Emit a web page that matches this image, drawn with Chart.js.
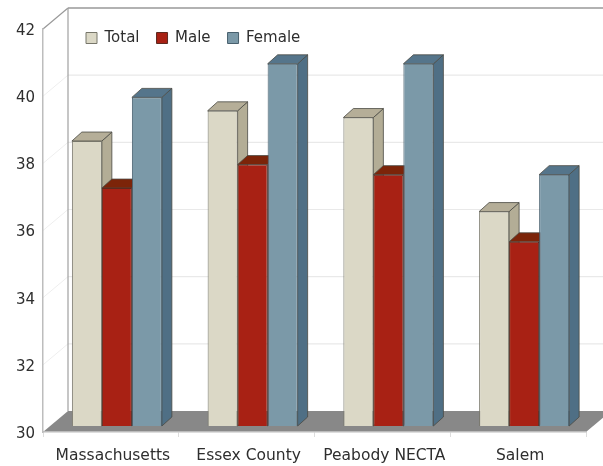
<!DOCTYPE html>
<html>
<head>
<meta charset="utf-8">
<script src="https://cdn.jsdelivr.net/npm/chart.js@4/dist/chart.umd.min.js"></script>
<style>
html, body { margin: 0; padding: 0; background: #fff; }
canvas { display: block; }
</style>
</head>
<body>
<canvas id="chart" width="603" height="466"></canvas>
<script>
const categories = ["Massachusetts", "Essex County", "Peabody NECTA", "Salem"];
const totalValues = [38.5, 39.4, 39.2, 36.4];
const maleValues = [37.1, 37.8, 37.5, 35.5];
const femaleValues = [39.8, 40.8, 40.8, 37.5];

const fontFamily = '"DejaVu Sans", sans-serif';
const textColor = "#2e2e2e";

// depth of the room and of the bars, in pixels
const wallDx = 25, wallDy = 21;
const barShiftX = 6, barShiftY = -5.5;
const barDx = 10, barDy = 9;

const sideColors = ["#b3ad96", "#7c2409", "#4f6f85"];
const topColors = ["#b5ae98", "#7c2409", "#55758b"];

function poly(ctx, pts, fill, stroke) {
    ctx.beginPath();
    ctx.moveTo(pts[0][0], pts[0][1]);
    for (var i = 1; i < pts.length; i++) ctx.lineTo(pts[i][0], pts[i][1]);
    ctx.closePath();
    ctx.fillStyle = fill;
    ctx.fill();
    if (stroke) {
        ctx.strokeStyle = stroke;
        ctx.lineWidth = 0.8;
        ctx.stroke();
    }
}

function line(ctx, x1, y1, x2, y2, color, width) {
    ctx.beginPath();
    ctx.moveTo(x1, y1);
    ctx.lineTo(x2, y2);
    ctx.strokeStyle = color;
    ctx.lineWidth = width;
    ctx.stroke();
}

const roomPlugin = {
    id: "room",
    beforeLayout(chart) {
        // legend sits inside the plot, so it must not take layout space
        const legend = chart.legend;
        if (!legend._wrapped) {
            const fit = legend.fit;
            legend.fit = function () {
                fit.call(this);
                this.height = 0;
            };
            legend._wrapped = true;
        }
    },
    afterLayout(chart) {
        const legend = chart.legend;
        legend.left = 69;
        legend.right = 330;
        legend.top = 13.5;
        legend.bottom = 50;
    },
    beforeDraw(chart) {
        const ctx = chart.ctx;
        const a = chart.chartArea;
        const y = chart.scales.y;
        ctx.save();
        // gridlines on the back wall and their run along the side wall
        y.ticks.forEach(t => {
            const py = y.getPixelForValue(t.value);
            if (t.value != 30 && t.value != 42) {
                line(ctx, a.left, py, a.left + wallDx, py - wallDy, "#eeeeee", 1);
                line(ctx, a.left + wallDx, py - wallDy, 603, py - wallDy, "#e9e9e9", 1.2);
            }
        });
        line(ctx, a.left, a.top, a.left + wallDx, a.top - wallDy, "#999999", 1.2);
        line(ctx, a.left + wallDx, a.top - wallDy, 603, a.top - wallDy, "#999999", 1.5);
        line(ctx, a.left + wallDx, a.top - wallDy, a.left + wallDx, a.bottom - wallDy, "#a0a0a0", 1.2);
        // floor
        poly(ctx, [[a.left, a.bottom], [a.left + wallDx, a.bottom - wallDy],
                   [a.right + wallDx, a.bottom - wallDy], [a.right, a.bottom]], "#888888");
        ctx.restore();
    },
    beforeDatasetsDraw(chart) {
        // draw first series first, so later bars cover the side of earlier ones
        const ctx = chart.ctx;
        chart.data.datasets.forEach((ds, i) => {
            const meta = chart.getDatasetMeta(i);
            ctx.save();
            ctx.translate(barShiftX, barShiftY);
            meta.data.forEach(bar => {
                const l = bar.x - bar.width / 2, r = bar.x + bar.width / 2;
                poly(ctx, [[r, bar.y], [r + barDx, bar.y - barDy], [r + barDx, bar.base - barDy], [r, bar.base]],
                     sideColors[i], "#4a4a44");
                poly(ctx, [[l, bar.y], [l + barDx, bar.y - barDy], [r + barDx, bar.y - barDy], [r, bar.y]],
                     topColors[i], "#4a4a44");
            });
            meta.controller.draw();
            ctx.restore();
        });
        return false;
    }
};

new Chart(document.getElementById("chart"), {
    type: "bar",
    data: {
        labels: categories,
        datasets: [
            { label: "Total", data: totalValues, base: 30, backgroundColor: "#dbd8c6", borderColor: "#77766a", borderWidth: 1 },
            { label: "Male", data: maleValues, base: 30, backgroundColor: "#a82114", borderColor: "#5c2a20", borderWidth: 1 },
            { label: "Female", data: femaleValues, base: 30, backgroundColor: "#7b99a8", borderColor: "#48606e", borderWidth: 1 }
        ]
    },
    options: {
        responsive: false,
        animation: false,
        categoryPercentage: 0.663,
        barPercentage: 1,
        layout: { padding: { top: 29, right: 17, left: 0, bottom: 0 } },
        plugins: {
            tooltip: { enabled: false },
            legend: {
                position: "top",
                align: "start",
                labels: {
                    boxWidth: 11,
                    boxHeight: 11,
                    padding: 17,
                    color: textColor,
                    font: { family: fontFamily, size: 15 }
                }
            }
        },
        scales: {
            x: {
                afterFit(scale) { scale.height = 34; },
                grid: { drawOnChartArea: false, color: "#dddddd", tickLength: 5 },
                border: { color: "#bbbbbb", width: 1.5 },
                ticks: {
                    color: textColor,
                    padding: 10,
                    labelOffset: 2,
                    maxRotation: 0,
                    autoSkip: false,
                    font: { family: fontFamily, size: 15.5 }
                }
            },
            y: {
                min: 30,
                max: 42,
                afterFit(scale) { scale.width = 43; },
                grid: { display: true, drawOnChartArea: false, drawTicks: false },
                border: { color: "#bdbdbd", width: 1.5 },
                ticks: {
                    stepSize: 2,
                    color: textColor,
                    padding: 8,
                    labelOffset: 2,
                    font: { family: fontFamily, size: 15 }
                }
            }
        }
    },
    plugins: [roomPlugin]
});
</script>
</body>
</html>
